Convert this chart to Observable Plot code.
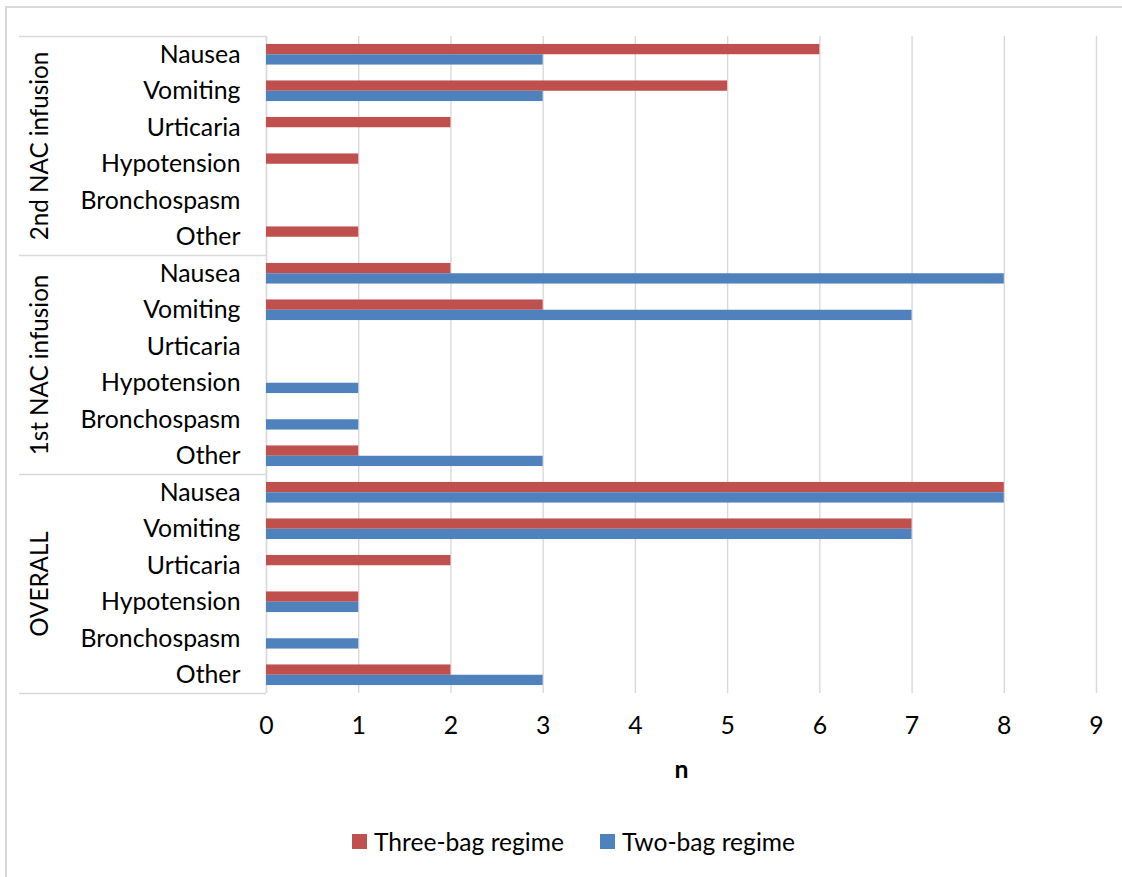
<!DOCTYPE html>
<html>
<head>
<meta charset="utf-8">
<script src="https://cdn.jsdelivr.net/npm/d3@7"></script>
<script src="https://cdn.jsdelivr.net/npm/@observablehq/plot@0.6"></script>
<style>
  html, body { margin: 0; padding: 0; background: #fff; overflow: hidden; }
  body { width: 1122px; height: 877px; position: relative; font-family: Lato, "Open Sans", sans-serif; }
  #frame { position: absolute; left: 5px; top: 6px; width: 1300px; height: 1000px; border: 2px solid #d9d9d9; box-sizing: border-box; pointer-events: none; }
  #chart { position: absolute; left: 0; top: 0; }
  #legend { position: absolute; left: 0; top: 815px; width: 1122px; height: 52px; display: flex; align-items: center; justify-content: center; padding-left: 25px; box-sizing: border-box; font-size: 24.6px; color: #000; }
  .item { display: flex; align-items: center; margin: 0 18px; }
  .sw { width: 15px; height: 15px; margin-right: 7px; }
</style>
</head>
<body>
<div id="frame"></div>
<div id="chart"></div>
<div id="legend"></div>
<script>
// ---- data ----
const groups = ["2nd NAC infusion", "1st NAC infusion", "OVERALL"];
const symptoms = ["Nausea", "Vomiting", "Urticaria", "Hypotension", "Bronchospasm", "Other"];
const seriesNames = ["Three-bag regime", "Two-bag regime"];
const seriesColors = ["#C0504D", "#4F81BD"];
const threeBag2nd = [6, 5, 2, 1, 0, 1];
const twoBag2nd = [3, 3, 0, 0, 0, 0];
const threeBag1st = [2, 3, 0, 0, 0, 1];
const twoBag1st = [8, 7, 0, 1, 1, 3];
const threeBagOverall = [8, 7, 2, 1, 0, 2];
const twoBagOverall = [8, 7, 0, 1, 1, 3];
const xTicks = [0, 1, 2, 3, 4, 5, 6, 7, 8, 9];

const threeByGroup = [threeBag2nd, threeBag1st, threeBagOverall];
const twoByGroup = [twoBag2nd, twoBag1st, twoBagOverall];

const rows = [];
groups.forEach((g, gi) => {
  symptoms.forEach((s, si) => {
    rows.push({key: g + "|" + s, group: g, symptom: s, three: threeByGroup[gi][si], two: twoByGroup[gi][si]});
  });
});
const keys = rows.map(d => d.key);

// ---- layout ----
const W = 1122, H = 815;
const mTop = 36, mBottom = H - 693, mLeft = 266, mRight = W - 1096;
const bw = (H - mTop - mBottom) / keys.length;
const barH = 10.3;
const font = "Lato, 'Open Sans', sans-serif";
const fs = 24.8;

const groupStarts = groups.map(g => ({group: g, key: g + "|" + symptoms[0]}));
const groupMid = groups.map(g => ({group: g, key: g + "|" + symptoms[2]}));
const lastKey = keys[keys.length - 1];

const plot = Plot.plot({
  width: W,
  height: H,
  marginTop: mTop,
  marginBottom: mBottom,
  marginLeft: mLeft,
  marginRight: mRight,
  style: {fontFamily: font, fontSize: fs + "px", color: "#000", background: "transparent", overflow: "visible"},
  x: {domain: [0, 9], ticks: xTicks},
  y: {domain: keys, padding: 0, round: false},
  marks: [
    Plot.gridX(xTicks, {stroke: "#d9d9d9", strokeOpacity: 1, strokeWidth: 1.4}),
    Plot.ruleX([0], {stroke: "#d9d9d9", strokeWidth: 1.4}),
    // table lines of the category axis
    Plot.ruleY(groupStarts, {y: "key", dy: -bw / 2, stroke: "#d9d9d9", strokeWidth: 1.4, insetLeft: -(mLeft - 19), insetRight: W - mLeft - mRight}),
    Plot.ruleY([lastKey], {dy: bw / 2, stroke: "#d9d9d9", strokeWidth: 1.4, insetLeft: -(mLeft - 19), insetRight: W - mLeft - mRight}),
    Plot.barX(rows, {x: "three", y: "key", fill: seriesColors[0], insetTop: bw / 2 - barH, insetBottom: bw / 2}),
    Plot.barX(rows, {x: "two", y: "key", fill: seriesColors[1], insetTop: bw / 2, insetBottom: bw / 2 - barH}),
    Plot.axisY({tickSize: 0, tickPadding: 26, tickFormat: d => d.split("|")[1], fontSize: fs, label: null, fill: "#000"}),
    Plot.axisX(xTicks, {tickSize: 0, tickPadding: 23, fontSize: fs, label: null, fill: "#000"}),
    Plot.text(groupMid, {y: "key", text: "group", dy: bw / 2, frameAnchor: "left", dx: -(mLeft - 40), rotate: -90, textAnchor: "middle", lineAnchor: "middle", fontSize: 24.2, fill: "#000"}),
    Plot.text(["n"], {text: d => d, frameAnchor: "bottom", dy: 77, fontWeight: "bold", fontSize: fs, fill: "#000", lineAnchor: "middle"})
  ]
});
document.getElementById("chart").appendChild(plot);

const legend = document.getElementById("legend");
seriesNames.forEach((name, i) => {
  const item = document.createElement("div");
  item.className = "item";
  const sw = document.createElement("div");
  sw.className = "sw";
  sw.style.background = seriesColors[i];
  const lab = document.createElement("span");
  lab.textContent = name;
  item.appendChild(sw);
  item.appendChild(lab);
  legend.appendChild(item);
});
</script>
</body>
</html>
